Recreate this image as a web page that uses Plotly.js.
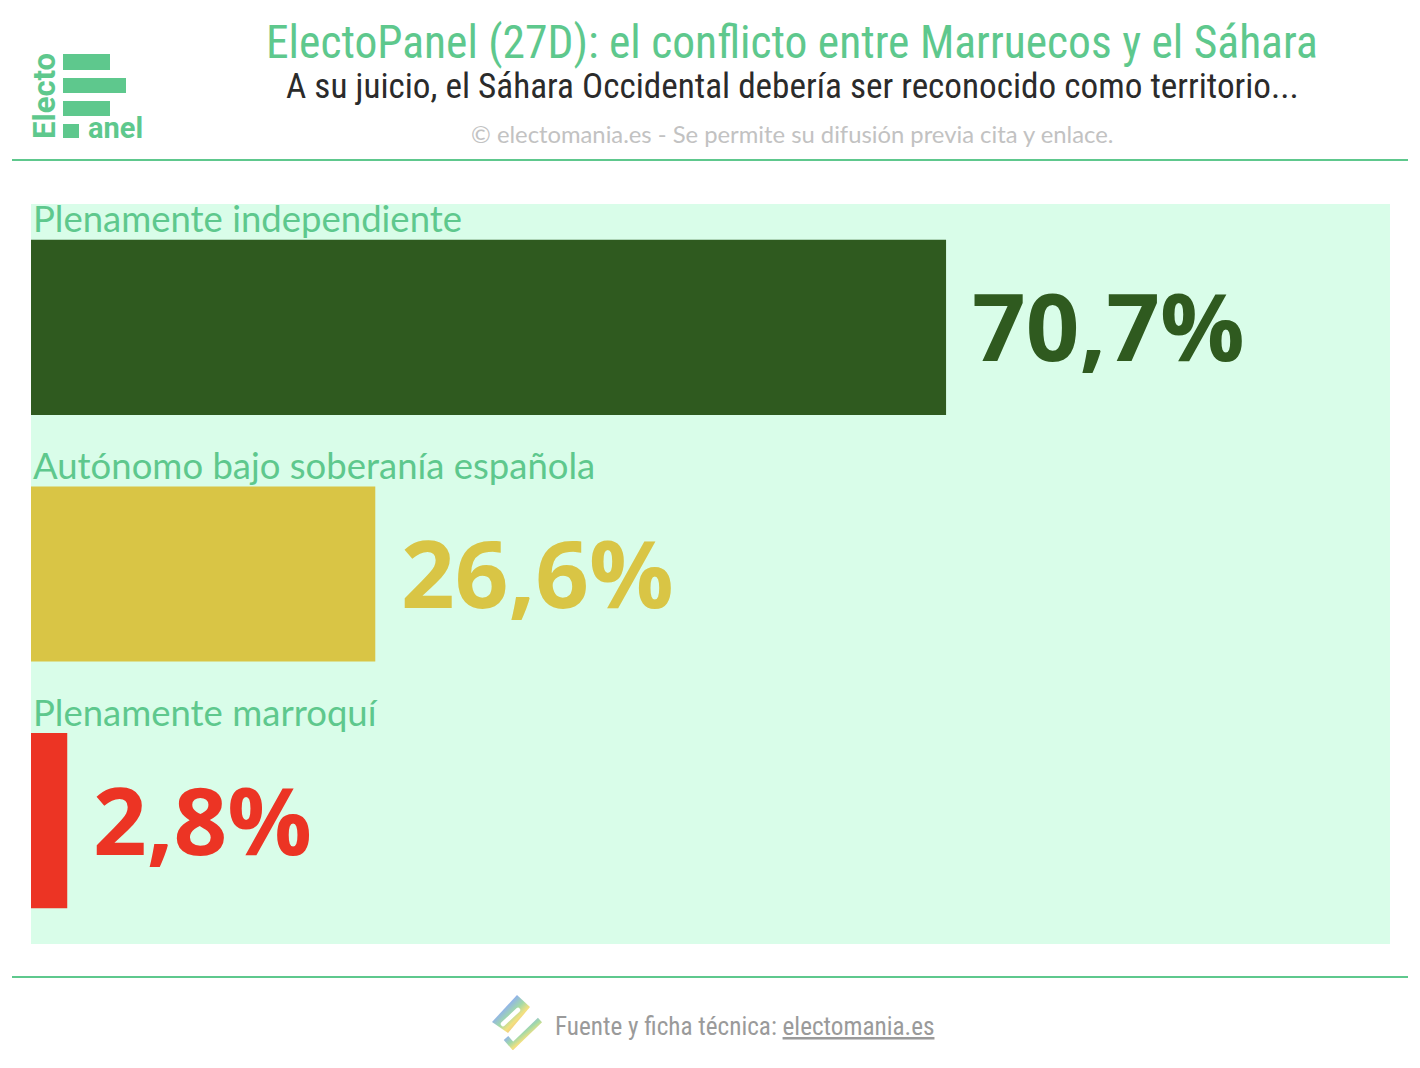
<!DOCTYPE html>
<html>
<head>
<meta charset="utf-8">
<script src="https://cdn.plot.ly/plotly-3.0.1.min.js"></script>
<style>html,body{margin:0;padding:0;background:#fff;}#chart{width:1420px;height:1068px;}</style>
</head>
<body>
<div id="chart"></div>
<script>
// ---- data ----
const categories = ["Plenamente independiente", "Autónomo bajo soberanía española", "Plenamente marroquí"];
const values = [70.7, 26.6, 2.8];
const valueLabels = ["70,7%", "26,6%", "2,8%"];
const barColors = ["#2f5a1f", "#d9c545", "#ec3424"];

const titleText = "ElectoPanel (27D): el conflicto entre Marruecos y el Sáhara";
const subtitleText = "A su juicio, el Sáhara Occidental debería ser reconocido como territorio...";
const copyrightText = "© electomania.es - Se permite su difusión previa cita y enlace.";
const footerText = "Fuente y ficha técnica: ";
const footerLink = "electomania.es";

// ---- layout helpers (pixel -> paper) ----
const L = 31, R = 1390, T = 204, B = 944;
const W = R - L, H = B - T;
const px = x => (x - L) / W;
const py = y => (B - y) / H;

const GREEN = "#5ec88d";
const COND = "'Roboto Condensed', 'Liberation Sans Narrow', Roboto, sans-serif";
const SANS = "Lato, sans-serif";
const BOLD = "'Open Sans', sans-serif";

function ann(text, x, y, size, color, family, opts) {
  return Object.assign({
    text: text, xref: "paper", yref: "paper", x: px(x), y: py(y),
    xanchor: "center", yanchor: "middle", showarrow: false,
    font: {size: size, color: color, family: family}
  }, opts || {});
}

const annotations = [
  ann(titleText, 792, 42, 45.5, GREEN, COND),
  ann(subtitleText, 792, 86, 35.2, "#2b2b2b", COND),
  ann(copyrightText, 792, 134, 23.8, "#c2c2c2", SANS),
  ann(footerText + '<span style="text-decoration:underline">' + footerLink + '</span>', 553, 1026, 25.2, "#9a9a9a", COND, {xanchor: "left", align: "left"}),
  ann("<b>anel</b>", 86, 128, 29, GREEN, "Roboto, sans-serif", {xanchor: "left", align: "left"}),
  ann("<b>Electo</b>", 45, 96, 31, GREEN, "Roboto, sans-serif", {textangle: -90})
];

categories.forEach((c, i) => {
  annotations.push({
    text: c, xref: "x", yref: "y", x: 0, y: c, xanchor: "left", align: "left", yanchor: "middle",
    yshift: 109, showarrow: false,
    font: {size: 36.5, color: GREEN, family: SANS}
  });
  annotations.push({
    text: valueLabels[i], xref: "x", yref: "y", x: values[i], y: c,
    xanchor: "left", align: "left", yanchor: "middle", xshift: 24, yshift: 2, showarrow: false,
    font: {size: 94, color: barColors[i], family: BOLD, weight: 700}
  });
});

function rect(x0, y0, x1, y1, color) {
  return {type: "rect", xref: "paper", yref: "paper", x0: px(x0), x1: px(x1), y0: py(y0), y1: py(y1),
          fillcolor: color, line: {width: 0}, layer: "above"};
}
function hline(y) {
  return {type: "line", xref: "paper", yref: "paper", x0: px(12), x1: px(1408), y0: py(y), y1: py(y),
          line: {color: GREEN, width: 2}};
}
const shapes = [
  hline(160), hline(977),
  rect(63, 54, 110, 70, GREEN),
  rect(63, 78, 126, 93, GREEN),
  rect(63, 101, 110, 116, GREEN),
  rect(63, 124, 79, 138, GREEN)
];

const iconSvg =
  '<svg xmlns="http://www.w3.org/2000/svg" width="60" height="60" viewBox="0 0 60 60">' +
  '<defs><linearGradient id="g" x1="0" y1="0.2" x2="0.8" y2="1">' +
  '<stop offset="0" stop-color="#c08ae8"/><stop offset="0.3" stop-color="#7fa8e4"/>' +
  '<stop offset="0.5" stop-color="#92d39a"/><stop offset="0.68" stop-color="#f0dc6a"/>' +
  '<stop offset="1" stop-color="#f08a6c"/></linearGradient></defs>' +
  '<g opacity="0.85">' +
  '<path d="M32 5 L45 17 L23 43 L7 32 Z" fill="url(#g)"/>' +
  '<path d="M18 34 L33 20" stroke="#fff" stroke-width="4.5" stroke-linecap="round"/>' +
  '<path d="M21 48 L28 56 L55 30" stroke="url(#g)" stroke-width="6" fill="none" stroke-linejoin="miter"/>' +
  '</g></svg>';

const images = [{
  source: "data:image/svg+xml;charset=utf-8," + encodeURIComponent(iconSvg),
  xref: "paper", yref: "paper", x: px(485), y: py(990), sizex: 60 / W, sizey: 60 / H,
  xanchor: "left", yanchor: "top", sizing: "stretch", layer: "above"
}];

const trace = {
  type: "bar", orientation: "h", x: values, y: categories,
  marker: {color: barColors, line: {width: 0}},
  hoverinfo: "none", cliponaxis: false
};

const layout = {
  width: 1420, height: 1068,
  margin: {l: L, r: 1420 - R, t: T, b: 1068 - B, pad: 0},
  paper_bgcolor: "#ffffff", plot_bgcolor: "#d9fde9",
  showlegend: false, bargap: 0.29,
  xaxis: {range: [0, 105], visible: false, fixedrange: true},
  yaxis: {type: "category", range: [2.5, -0.5], autorange: false, visible: false, fixedrange: true},
  annotations: annotations, shapes: shapes, images: images
};

Plotly.newPlot("chart", [trace], layout, {displayModeBar: false, staticPlot: true});
</script>
</body>
</html>
